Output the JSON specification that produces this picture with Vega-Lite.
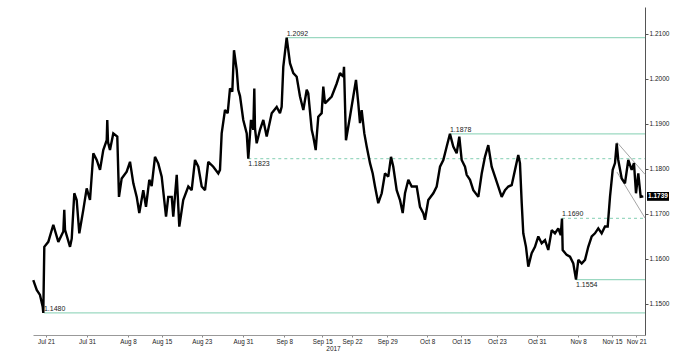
{
  "$schema": "https://vega.github.io/schema/vega-lite/v6.json",
  "width": 612,
  "height": 328,
  "autosize": "none",
  "padding": {"left": 33, "top": 7, "right": 42, "bottom": 26},
  "background": "white",
  "config": {"view": {"stroke": null}, "font": "Liberation Sans"},
  "datasets": {
    "price": [
      {"t": -1.88, "p": 1.1553}, {"t": -1.37, "p": 1.1531}, {"t": -0.89, "p": 1.1520}, {"t": -0.49, "p": 1.1494},
      {"t": -0.40, "p": 1.1480}, {"t": -0.25, "p": 1.1627}, {"t": 0.34, "p": 1.1638}, {"t": 1.08, "p": 1.1676},
      {"t": 1.82, "p": 1.1638}, {"t": 2.56, "p": 1.1661}, {"t": 2.70, "p": 1.1709}, {"t": 2.81, "p": 1.1665},
      {"t": 3.55, "p": 1.1627}, {"t": 3.80, "p": 1.1645}, {"t": 4.18, "p": 1.1746}, {"t": 4.53, "p": 1.1731},
      {"t": 4.92, "p": 1.1657}, {"t": 5.51, "p": 1.1709}, {"t": 6.01, "p": 1.1757}, {"t": 6.50, "p": 1.1731},
      {"t": 6.99, "p": 1.1835}, {"t": 7.49, "p": 1.1820}, {"t": 7.98, "p": 1.1798}, {"t": 8.46, "p": 1.1842},
      {"t": 8.97, "p": 1.1864}, {"t": 9.05, "p": 1.1909}, {"t": 9.16, "p": 1.1860}, {"t": 9.45, "p": 1.1842},
      {"t": 9.94, "p": 1.1879}, {"t": 10.53, "p": 1.1872}, {"t": 10.78, "p": 1.1738}, {"t": 11.18, "p": 1.1779},
      {"t": 11.92, "p": 1.1794}, {"t": 12.41, "p": 1.1816}, {"t": 12.90, "p": 1.1768}, {"t": 13.40, "p": 1.1738},
      {"t": 13.78, "p": 1.1702}, {"t": 14.37, "p": 1.1753}, {"t": 14.77, "p": 1.1716}, {"t": 15.26, "p": 1.1776},
      {"t": 15.61, "p": 1.1762}, {"t": 16.10, "p": 1.1827}, {"t": 16.59, "p": 1.1812}, {"t": 17.09, "p": 1.1783},
      {"t": 17.73, "p": 1.1694}, {"t": 18.06, "p": 1.1738}, {"t": 18.57, "p": 1.1738}, {"t": 18.80, "p": 1.1694},
      {"t": 19.31, "p": 1.1787}, {"t": 19.69, "p": 1.1672}, {"t": 20.27, "p": 1.1731}, {"t": 21.02, "p": 1.1761},
      {"t": 21.52, "p": 1.1753}, {"t": 22.01, "p": 1.1820}, {"t": 22.50, "p": 1.1805}, {"t": 23.00, "p": 1.1761},
      {"t": 23.49, "p": 1.1753}, {"t": 23.97, "p": 1.1816}, {"t": 24.71, "p": 1.1805}, {"t": 25.45, "p": 1.1790},
      {"t": 25.70, "p": 1.1798}, {"t": 25.95, "p": 1.1879}, {"t": 26.44, "p": 1.1931}, {"t": 26.84, "p": 1.1924},
      {"t": 27.18, "p": 1.1979}, {"t": 27.52, "p": 1.1972}, {"t": 27.77, "p": 1.2064}, {"t": 28.17, "p": 1.2020},
      {"t": 28.40, "p": 1.1976}, {"t": 28.66, "p": 1.1962}, {"t": 29.14, "p": 1.1909}, {"t": 29.65, "p": 1.1879},
      {"t": 29.88, "p": 1.1823}, {"t": 30.28, "p": 1.1909}, {"t": 30.62, "p": 1.1887}, {"t": 30.77, "p": 1.1979},
      {"t": 30.87, "p": 1.1890}, {"t": 31.12, "p": 1.1857}, {"t": 31.61, "p": 1.1887}, {"t": 32.10, "p": 1.1909},
      {"t": 32.60, "p": 1.1872}, {"t": 33.34, "p": 1.1924}, {"t": 34.08, "p": 1.1938}, {"t": 34.56, "p": 1.1924},
      {"t": 34.81, "p": 1.1938}, {"t": 35.05, "p": 1.2027}, {"t": 35.55, "p": 1.2092}, {"t": 35.79, "p": 1.2064},
      {"t": 36.04, "p": 1.2035}, {"t": 36.53, "p": 1.2013}, {"t": 37.03, "p": 1.2005}, {"t": 37.52, "p": 1.1961},
      {"t": 38.01, "p": 1.1931}, {"t": 38.51, "p": 1.1976}, {"t": 38.74, "p": 1.1968}, {"t": 39.25, "p": 1.1887},
      {"t": 39.48, "p": 1.1872}, {"t": 39.84, "p": 1.1842}, {"t": 40.03, "p": 1.1880}, {"t": 40.22, "p": 1.1916},
      {"t": 40.72, "p": 1.1924}, {"t": 40.96, "p": 1.1983}, {"t": 41.21, "p": 1.1946}, {"t": 42.20, "p": 1.1961},
      {"t": 42.94, "p": 1.1990}, {"t": 43.43, "p": 1.2013}, {"t": 43.91, "p": 1.2005}, {"t": 44.02, "p": 1.2027},
      {"t": 44.31, "p": 1.1864}, {"t": 44.90, "p": 1.1916}, {"t": 45.39, "p": 1.1961}, {"t": 45.79, "p": 1.1998},
      {"t": 46.13, "p": 1.1946}, {"t": 46.38, "p": 1.1902}, {"t": 46.63, "p": 1.1931}, {"t": 47.02, "p": 1.1879},
      {"t": 47.37, "p": 1.1850}, {"t": 47.86, "p": 1.1813}, {"t": 48.26, "p": 1.1790}, {"t": 48.60, "p": 1.1761},
      {"t": 49.08, "p": 1.1724}, {"t": 49.59, "p": 1.1746}, {"t": 50.07, "p": 1.1790}, {"t": 50.56, "p": 1.1783},
      {"t": 50.96, "p": 1.1827}, {"t": 51.30, "p": 1.1805}, {"t": 51.80, "p": 1.1753}, {"t": 52.29, "p": 1.1731},
      {"t": 52.69, "p": 1.1702}, {"t": 53.03, "p": 1.1746}, {"t": 53.52, "p": 1.1776}, {"t": 54.02, "p": 1.1761},
      {"t": 54.76, "p": 1.1761}, {"t": 55.24, "p": 1.1716}, {"t": 55.73, "p": 1.1702}, {"t": 55.98, "p": 1.1687},
      {"t": 56.47, "p": 1.1731}, {"t": 57.21, "p": 1.1746}, {"t": 57.71, "p": 1.1761}, {"t": 58.20, "p": 1.1805},
      {"t": 58.69, "p": 1.1820}, {"t": 59.19, "p": 1.1850}, {"t": 59.67, "p": 1.1878}, {"t": 60.16, "p": 1.1850},
      {"t": 60.66, "p": 1.1835}, {"t": 61.05, "p": 1.1872}, {"t": 61.40, "p": 1.1820}, {"t": 61.89, "p": 1.1805},
      {"t": 62.14, "p": 1.1787}, {"t": 62.63, "p": 1.1776}, {"t": 63.12, "p": 1.1753}, {"t": 63.86, "p": 1.1738},
      {"t": 64.36, "p": 1.1790}, {"t": 64.84, "p": 1.1827}, {"t": 65.33, "p": 1.1853}, {"t": 65.83, "p": 1.1805},
      {"t": 66.32, "p": 1.1783}, {"t": 66.81, "p": 1.1761}, {"t": 67.31, "p": 1.1738}, {"t": 67.80, "p": 1.1753},
      {"t": 68.29, "p": 1.1761}, {"t": 68.79, "p": 1.1764}, {"t": 69.28, "p": 1.1798}, {"t": 69.76, "p": 1.1831},
      {"t": 70.01, "p": 1.1813}, {"t": 70.27, "p": 1.1724}, {"t": 70.50, "p": 1.1657}, {"t": 70.90, "p": 1.1627},
      {"t": 71.24, "p": 1.1583}, {"t": 71.74, "p": 1.1613}, {"t": 72.23, "p": 1.1627}, {"t": 72.72, "p": 1.1650},
      {"t": 73.22, "p": 1.1635}, {"t": 73.71, "p": 1.1642}, {"t": 74.19, "p": 1.1620}, {"t": 74.70, "p": 1.1664},
      {"t": 75.18, "p": 1.1657}, {"t": 75.67, "p": 1.1668}, {"t": 76.03, "p": 1.1653}, {"t": 76.22, "p": 1.1690},
      {"t": 76.32, "p": 1.1620}, {"t": 76.91, "p": 1.1609}, {"t": 77.40, "p": 1.1605}, {"t": 77.89, "p": 1.1590},
      {"t": 78.29, "p": 1.1554}, {"t": 78.63, "p": 1.1598}, {"t": 79.13, "p": 1.1590}, {"t": 79.62, "p": 1.1598},
      {"t": 80.10, "p": 1.1627}, {"t": 80.61, "p": 1.1650}, {"t": 81.09, "p": 1.1657}, {"t": 81.58, "p": 1.1668},
      {"t": 82.08, "p": 1.1657}, {"t": 82.57, "p": 1.1672}, {"t": 82.97, "p": 1.1672}, {"t": 83.31, "p": 1.1738},
      {"t": 83.71, "p": 1.1798}, {"t": 84.05, "p": 1.1813}, {"t": 84.30, "p": 1.1857}, {"t": 84.53, "p": 1.1820},
      {"t": 85.04, "p": 1.1779}, {"t": 85.52, "p": 1.1768}, {"t": 86.01, "p": 1.1820}, {"t": 86.51, "p": 1.1798},
      {"t": 86.85, "p": 1.1813}, {"t": 87.15, "p": 1.1746}, {"t": 87.49, "p": 1.1790}, {"t": 87.84, "p": 1.1738},
      {"t": 88.23, "p": 1.1739}
    ],
    "levels": [
      {"level": 1.2092, "start": 35.55, "end": 88.48, "style": "solid", "pos": "above"},
      {"level": 1.1878, "start": 59.67, "end": 88.48, "style": "solid", "pos": "above"},
      {"level": 1.1823, "start": 29.88, "end": 88.48, "style": "dashed", "pos": "below"},
      {"level": 1.1690, "start": 76.22, "end": 88.48, "style": "dashed", "pos": "above"},
      {"level": 1.1554, "start": 78.29, "end": 88.48, "style": "solid", "pos": "below"},
      {"level": 1.1480, "start": -0.30, "end": 88.48, "style": "solid", "pos": "above"}
    ],
    "channel": [
      {"t1": 84.30, "p1": 1.1860, "t2": 88.48, "p2": 1.1788},
      {"t1": 84.34, "p1": 1.1793, "t2": 88.48, "p2": 1.1691}
    ],
    "last": [{"t": 88.48, "p": 1.1739, "label": "1.1739"}]
  },
  "layer": [
    {
      "data": {"name": "levels"},
      "mark": {"type": "rule", "strokeWidth": 1.3},
      "encoding": {
        "x": {"field": "start", "type": "quantitative", "scale": {"domain": [-1.92, 88.48], "nice": false, "zero": false},
          "axis": {
            "orient": "bottom",
            "values": [0, 6.06, 12.1, 17.1, 23.0, 29.1, 35.2, 40.8, 45.2, 50.4, 56.3, 61.3, 66.6, 72.5, 78.6, 83.6, 87.2],
            "tickCount": 200,
            "labelExpr": "datum.value < 3 ? 'Jul 21' : datum.value < 9 ? 'Jul 31' : datum.value < 15 ? 'Aug 8' : datum.value < 20 ? 'Aug 15' : datum.value < 26 ? 'Aug 23' : datum.value < 32 ? 'Aug 31' : datum.value < 38 ? 'Sep 8' : datum.value < 43 ? 'Sep 15' : datum.value < 48 ? 'Sep 22' : datum.value < 53 ? 'Sep 29' : datum.value < 59 ? 'Oct 8' : datum.value < 64 ? 'Oct 15' : datum.value < 70 ? 'Oct 23' : datum.value < 75 ? 'Oct 31' : datum.value < 81 ? 'Nov 8' : datum.value < 85.5 ? 'Nov 15' : 'Nov 21'",
            "labelOverlap": {"expr": "false"},
            "labelFlush": false,
            "labelFontSize": 6.3,
            "labelColor": "#222",
            "labelPadding": 1,
            "tickSize": 2,
            "tickColor": "#888",
            "domainColor": "#999",
            "grid": false,
            "title": "2017",
            "titleFontSize": 6.5,
            "titleFontWeight": "normal",
            "titleColor": "#222",
            "titlePadding": 1,
            "titleX": 300
          }},
        "x2": {"field": "end"},
        "y": {"field": "level", "type": "quantitative", "scale": {"domain": [1.1431, 1.2160], "nice": false, "zero": false},
          "axis": {
            "orient": "right",
            "values": [1.15, 1.16, 1.17, 1.18, 1.19, 1.20, 1.21],
            "tickCount": 50,
            "format": ".4f",
            "labelFontSize": 6.5,
            "labelColor": "#222",
            "labelPadding": 1,
            "tickSize": 3,
            "tickColor": "#555",
            "domainColor": "#555",
            "grid": false,
            "title": null
          }},
        "color": {"value": "#9bd8c1"},
        "strokeDash": {"field": "style", "type": "nominal", "scale": {"domain": ["solid", "dashed"], "range": [[1, 0], [3, 3]]}, "legend": null}
      }
    },
    {
      "data": {"name": "channel"},
      "mark": {"type": "rule", "strokeWidth": 0.9, "color": "#9a9a9a"},
      "encoding": {
        "x": {"field": "t1", "type": "quantitative"},
        "x2": {"field": "t2"},
        "y": {"field": "p1", "type": "quantitative"},
        "y2": {"field": "p2"}
      }
    },
    {
      "data": {"name": "price"},
      "mark": {"type": "line", "color": "#000000", "strokeWidth": 2.4, "strokeJoin": "miter", "strokeMiterLimit": 2},
      "encoding": {
        "x": {"field": "t", "type": "quantitative"},
        "y": {"field": "p", "type": "quantitative"}
      }
    },
    {
      "data": {"name": "levels"},
      "transform": [{"filter": "datum.pos == 'above'"}],
      "mark": {"type": "text", "align": "left", "baseline": "bottom", "dy": -1, "fontSize": 7, "color": "#222"},
      "encoding": {
        "x": {"field": "start", "type": "quantitative"},
        "y": {"field": "level", "type": "quantitative"},
        "text": {"field": "level", "type": "quantitative", "format": ".4f"}
      }
    },
    {
      "data": {"name": "levels"},
      "transform": [{"filter": "datum.pos == 'below'"}],
      "mark": {"type": "text", "align": "left", "baseline": "top", "dy": 1, "fontSize": 7, "color": "#222"},
      "encoding": {
        "x": {"field": "start", "type": "quantitative"},
        "y": {"field": "level", "type": "quantitative"},
        "text": {"field": "level", "type": "quantitative", "format": ".4f"}
      }
    },
    {
      "data": {"name": "last"},
      "mark": {"type": "point", "shape": "M-1,-0.4L1,-0.4L1,0.4L-1,0.4Z", "filled": true, "color": "#000000", "size": 484, "xOffset": 13, "opacity": 1},
      "encoding": {
        "x": {"field": "t", "type": "quantitative"},
        "y": {"field": "p", "type": "quantitative"}
      }
    },
    {
      "data": {"name": "last"},
      "mark": {"type": "text", "color": "#ffffff", "fontSize": 6.5, "fontWeight": "bold", "align": "center", "baseline": "middle", "dx": 13},
      "encoding": {
        "x": {"field": "t", "type": "quantitative"},
        "y": {"field": "p", "type": "quantitative"},
        "text": {"field": "label"}
      }
    }
  ]
}
